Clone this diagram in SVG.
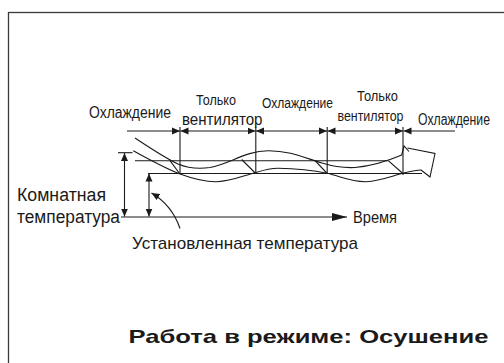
<svg xmlns="http://www.w3.org/2000/svg" width="504" height="363" viewBox="0 0 504 363">
<style>
.ln{fill:none;stroke:#1a1a1a;stroke-width:1.1}
.ah{fill:#1a1a1a;stroke:none}
.t{font-family:"Liberation Sans",Arial,sans-serif;fill:#1a1a1a}
.b{font-family:"Liberation Sans",Arial,sans-serif;font-weight:bold;fill:#1a1a1a}
</style>
<defs>
<marker id="ar" viewBox="0 0 8 8" refX="8" refY="4" markerWidth="8" markerHeight="8" markerUnits="userSpaceOnUse" orient="auto-start-reverse">
<path d="M0,0.5 L8,4 L0,7.5 Z" class="ah"/>
</marker>
<marker id="ab" viewBox="0 0 15 8" refX="15" refY="4" markerWidth="15" markerHeight="8" markerUnits="userSpaceOnUse" orient="auto">
<path d="M0,0 L15,4 L0,8 Z" class="ah"/>
</marker>
</defs>
<rect width="504" height="363" fill="#fff"/>
<rect x="8.5" y="12.5" width="520" height="380" fill="none" stroke="#3a3a3a" stroke-width="1.3"/>

<g id="connectors">
<line class="ln" x1="127" y1="131" x2="180" y2="131" marker-end="url(#ar)"/>
<line class="ln" x1="180.5" y1="131" x2="255.5" y2="131" marker-start="url(#ar)" marker-end="url(#ar)"/>
<line class="ln" x1="256" y1="131" x2="327" y2="131" marker-start="url(#ar)" marker-end="url(#ar)"/>
<line class="ln" x1="327.5" y1="131" x2="403" y2="131" marker-start="url(#ar)" marker-end="url(#ar)"/>
<line class="ln" x1="403.5" y1="131" x2="455" y2="131" marker-start="url(#ar)"/>
<line class="ln" x1="180" y1="127" x2="180" y2="174"/>
<line class="ln" x1="255.8" y1="127" x2="255.8" y2="174"/>
<line class="ln" x1="327.2" y1="127" x2="327.2" y2="174"/>
<line class="ln" x1="403" y1="127" x2="403" y2="175"/>
<line class="ln" x1="135" y1="160.7" x2="388" y2="160.7"/>
<line class="ln" x1="148" y1="173.5" x2="422" y2="173.5"/>
<line class="ln" x1="170" y1="160.7" x2="179.5" y2="173.5"/>
<line class="ln" x1="241.7" y1="159.5" x2="255.7" y2="173.5"/>
<line class="ln" x1="315" y1="160.5" x2="327.2" y2="173.5"/>
<line class="ln" x1="388.3" y1="160.7" x2="402.8" y2="173.5"/>
<path class="ln" d="M135,138 C150,148 165,158 178,164 C190,169 200,169 210,167.5 C230,164 245,151 268,150.7 C290,150.5 305,158 322,163 C335,167 345,168 355,167.5 C372,166 390,160 401.7,155 L404,146 L409,151.5 M407.5,148 L435,153.5 L430,177 L421,170"/>
<path class="ln" d="M133.3,150.7 C150,160 165,168 180,174 C195,179.5 205,182 217,181.7 C232,181 245,175 256,172.5 C264,170 270,168.3 278,168.3 C295,168.5 312,170 327.3,173.3 C342,177 352,182 366,181.7 C380,181 392,176 402.7,173.3 C410,171.5 415,170 421,170"/>
<line class="ln" x1="118" y1="152.7" x2="132.5" y2="152.7"/>
<line class="ln" x1="124.5" y1="153" x2="124.5" y2="216.5" marker-start="url(#ar)" marker-end="url(#ar)"/>
<line class="ln" x1="149" y1="173.5" x2="149" y2="216.5" marker-start="url(#ar)" marker-end="url(#ar)"/>
<line class="ln" x1="121" y1="217" x2="347" y2="217" marker-end="url(#ab)"/>
<path class="ln" d="M180,228.5 Q172,205 151.5,193" marker-end="url(#ar)"/>
</g>

<g id="label-cool1"><text class="t" x="89" y="117.5" font-size="16" textLength="82" lengthAdjust="spacingAndGlyphs">Охлаждение</text></g>
<g id="label-fan1">
<text class="t" x="196" y="104.5" font-size="15" textLength="40" lengthAdjust="spacingAndGlyphs">Только</text>
<text class="t" x="182" y="125" font-size="17" textLength="80.5" lengthAdjust="spacingAndGlyphs">вентилятор</text>
</g>
<g id="label-cool2"><text class="t" x="262" y="107.5" font-size="15.5" textLength="71" lengthAdjust="spacingAndGlyphs">Охлаждение</text></g>
<g id="label-fan2">
<text class="t" x="357" y="101" font-size="14" textLength="41" lengthAdjust="spacingAndGlyphs">Только</text>
<text class="t" x="337.5" y="120.5" font-size="14.5" textLength="66" lengthAdjust="spacingAndGlyphs">вентилятор</text>
</g>
<g id="label-cool3"><text class="t" x="418" y="124.5" font-size="16" textLength="72" lengthAdjust="spacingAndGlyphs">Охлаждение</text></g>
<g id="label-room">
<text class="t" x="17" y="200.5" font-size="18" textLength="89" lengthAdjust="spacingAndGlyphs">Комнатная</text>
<text class="t" x="17" y="223" font-size="18" textLength="103" lengthAdjust="spacingAndGlyphs">температура</text>
</g>
<g id="label-time"><text class="t" x="353" y="222.5" font-size="16.5" textLength="44" lengthAdjust="spacingAndGlyphs">Время</text></g>
<g id="label-set"><text class="t" x="132" y="248.5" font-size="17" textLength="226" lengthAdjust="spacingAndGlyphs">Установленная температура</text></g>
<g id="title"><text class="b" x="128.5" y="343" font-size="19" textLength="360" lengthAdjust="spacingAndGlyphs">Работа в режиме: Осушение</text></g>
</svg>
